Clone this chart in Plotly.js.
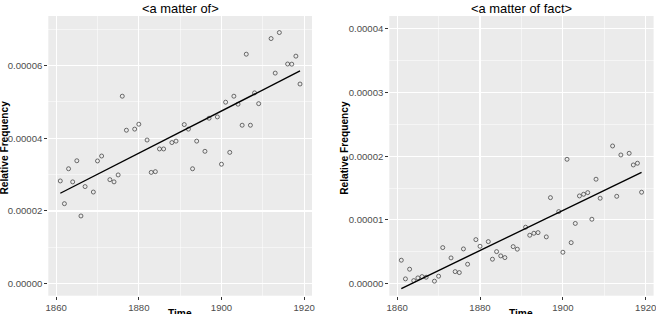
<!DOCTYPE html>
<html>
<head>
<meta charset="utf-8">
<script src="https://cdn.plot.ly/plotly-3.0.1.min.js"></script>
<style>html,body{margin:0;padding:0;background:#fff}#chart{width:656px;height:314px}</style>
</head>
<body>
<div id="chart"></div>
<script>
// Years (shared by both panels)
const years = [1861,1862,1863,1864,1865,1866,1867,1869,1870,1871,1873,1874,1875,1876,1877,1879,1880,1882,1883,1884,1885,1886,1888,1889,1891,1892,1893,1894,1896,1897,1899,1900,1901,1902,1903,1904,1905,1906,1907,1908,1909,1912,1913,1914,1916,1917,1918,1919];

// "<a matter of>" relative frequency (x1e-5)
const matterOf = [2.825,2.20,3.16,2.80,3.38,1.862,2.67,2.52,3.375,3.51,2.86,2.80,2.99,5.155,4.22,4.25,4.385,3.95,3.06,3.08,3.705,3.705,3.88,3.92,4.375,4.25,3.16,3.92,3.64,4.55,4.586,3.285,4.99,3.61,5.155,4.935,4.357,6.31,4.357,5.246,4.95,6.74,5.79,6.905,6.04,6.036,6.256,5.49];

// "<a matter of fact>" relative frequency (x1e-5)
const matterOfFact = [0.367,0.074,0.226,0.047,0.089,0.11,0.10,0.038,0.116,0.565,0.403,0.188,0.173,0.544,0.304,0.69,0.586,0.659,0.383,0.502,0.435,0.408,0.58,0.54,0.885,0.759,0.79,0.80,0.733,1.349,1.13,0.492,1.951,0.643,0.944,1.376,1.402,1.428,1.01,1.638,1.34,2.16,1.37,2.019,2.045,1.862,1.889,1.434];

const panelTitles = ['<a matter of>', '<a matter of fact>'];
const xTicks = [1860,1880,1900,1920];
const SCALE = 1e-5;

function esc(s){ return s.replace(/&/g,'&amp;').replace(/</g,'&lt;').replace(/>/g,'&gt;'); }

function ols(x, y) {
  const n = x.length;
  const mx = x.reduce((a,b)=>a+b,0)/n, my = y.reduce((a,b)=>a+b,0)/n;
  let sxy=0, sxx=0;
  for (let i=0;i<n;i++){ sxy += (x[i]-mx)*(y[i]-my); sxx += (x[i]-mx)*(x[i]-mx); }
  const b = sxy/sxx, a = my - b*mx;
  return [a,b];
}

function panel(vals, xa, ya) {
  const y = vals.map(v => v*SCALE);
  const [a,b] = ols(years, y);
  const x0 = Math.min(...years), x1 = Math.max(...years);
  return [
    {type:'scatter', mode:'markers', x:years, y:y, xaxis:xa, yaxis:ya,
     marker:{symbol:'circle-open', size:4, color:'#333333', line:{width:0.7}},
     hoverinfo:'skip', showlegend:false},
    {type:'scatter', mode:'lines', x:[x0,x1], y:[a+b*x0, a+b*x1], xaxis:xa, yaxis:ya,
     line:{color:'#000000', width:1.4}, hoverinfo:'skip', showlegend:false}
  ];
}

const data = [...panel(matterOf,'x','y'), ...panel(matterOfFact,'x2','y2')];

const FAM = 'Liberation Sans, Arial, sans-serif';
const tickFont = {family:FAM, size:9.6, color:'#4D4D4D'};
function xax(domain, anchor) {
  return {domain:domain, anchor:anchor, range:[1858.1,1921.9], tickvals:xTicks,
    ticks:'outside', ticklen:3, tickwidth:1, tickcolor:'#333333', tickfont:tickFont,
    ticklabeloverflow:'allow',
    showgrid:true, gridcolor:'#FFFFFF', gridwidth:1.1, zeroline:false, showline:false,
    minor:{tickvals:[1870,1890,1910], showgrid:true, gridcolor:'#FFFFFF', gridwidth:0.5, ticks:''}};
}
function yax(domain, anchor, range, major, minor) {
  return {domain:domain, anchor:anchor, range:range, tickvals:major, tickformat:'.5f',
    ticks:'outside', ticklen:3, tickwidth:1, tickcolor:'#333333', tickfont:tickFont,
    ticklabeloverflow:'allow',
    showgrid:true, gridcolor:'#FFFFFF', gridwidth:1.1, zeroline:false, showline:false,
    minor:{tickvals:minor, showgrid:true, gridcolor:'#FFFFFF', gridwidth:0.5, ticks:''}};
}

const H = 314, W = 656;
const yd = [(H-295.7)/H, (H-16)/H];
const xd1 = [48.3/W, 312/W];
const xd2 = [389.3/W, 653.6/W];
const titleFont = {family:FAM, size:12.9, color:'#000'};
const labFont = {family:FAM, size:10.2, color:'#000'};

function ann(text, x, ypx, font, extra) {
  return Object.assign({text:text, xref:'paper', yref:'paper', x:x, y:1-ypx/H,
    xanchor:'center', yanchor:'middle', showarrow:false, font:font}, extra||{});
}

const layout = {
  width:W, height:H, margin:{l:0,r:0,t:0,b:0},
  paper_bgcolor:'#FFFFFF', plot_bgcolor:'#EBEBEB',
  font:{family:FAM},
  xaxis: xax(xd1,'y'),
  yaxis: yax(yd,'x',[-0.33e-5,7.36e-5],[0,2e-5,4e-5,6e-5],[1e-5,3e-5,5e-5,7e-5]),
  xaxis2: xax(xd2,'y2'),
  yaxis2: yax(yd,'x2',[-0.19e-5,4.2e-5],[0,1e-5,2e-5,3e-5,4e-5],[0.5e-5,1.5e-5,2.5e-5,3.5e-5]),
  annotations:[
    ann(esc(panelTitles[0]), (xd1[0]+xd1[1])/2, 8.5, titleFont),
    ann(esc(panelTitles[1]), (xd2[0]+xd2[1])/2, 8.5, titleFont),
    ann('<b>Relative Frequency</b>', 4/W, 147.5, labFont, {textangle:-90}),
    ann('<b>Relative Frequency</b>', 344.3/W, 147.5, labFont, {textangle:-90}),
    ann('<b>Time</b>', (xd1[0]+xd1[1])/2, 313, labFont),
    ann('<b>Time</b>', (xd2[0]+xd2[1])/2, 313, labFont)
  ]
};

Plotly.newPlot('chart', data, layout, {staticPlot:true, displayModeBar:false});
</script>
</body>
</html>
